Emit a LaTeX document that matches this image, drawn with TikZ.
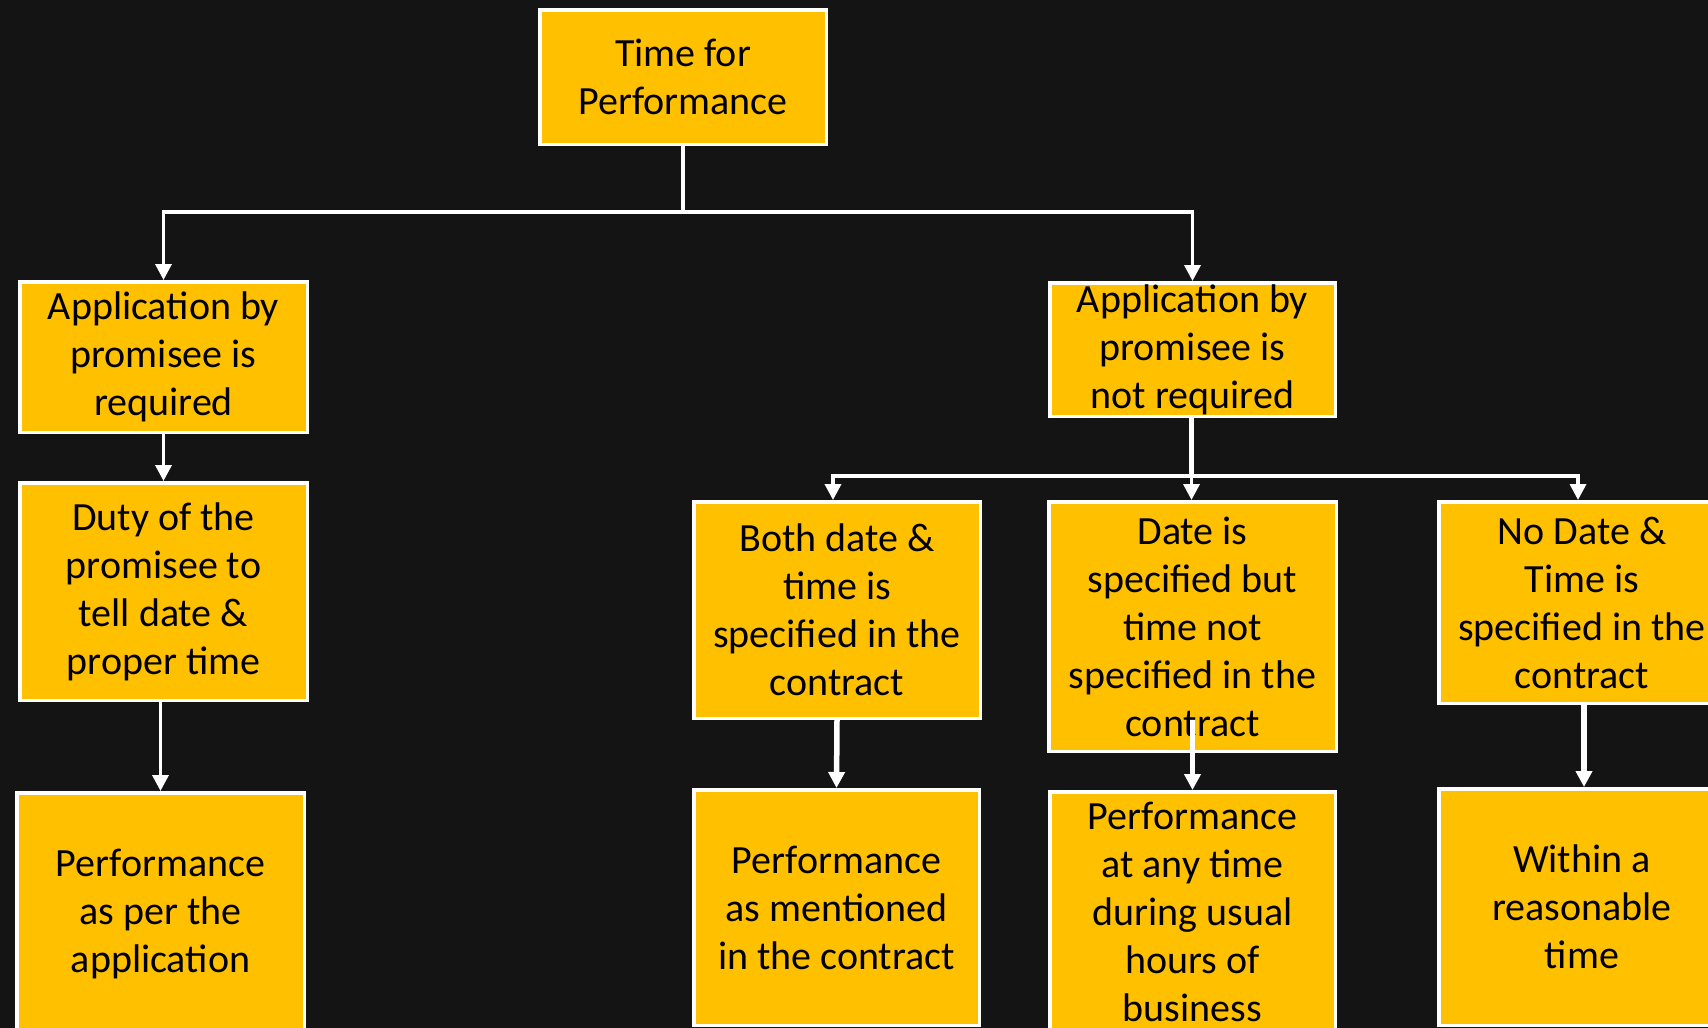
\documentclass[tikz,border=0pt]{standalone}
\usepackage{fontspec}
\setmainfont{Carlito}
\usetikzlibrary{arrows.meta}
\definecolor{bg}{HTML}{141414}
\definecolor{gold}{HTML}{FFC000}
\begin{document}
\begin{tikzpicture}[x=1pt,y=-1pt,
  box/.style={draw=white, line width=3.5pt, fill=gold, align=center, inner sep=0pt,
    font=\fontsize{40}{48}\selectfont, text=black},
  conn/.style={draw=white, line width=3.5pt},
  arr/.style={conn, -{Triangle[width=16pt,length=16pt]}}]
\useasboundingbox (0,0) rectangle (1708,1028);
\clip (0,0) rectangle (1708,1028);
\fill[bg] (0,0) rectangle (1708,1028);
\node[box, minimum width=286.5pt, minimum height=134.5pt] (top) at (683,77) {Time for\\Performance};
\node[box, minimum width=287.5pt, minimum height=150.5pt] (L1) at (163.5,357) {Application by\\promisee is\\required};
\node[box, minimum width=287.5pt, minimum height=217.5pt] (L2) at (163.5,591.5) {Duty of the\\promisee to\\tell date \&\\proper time};
\node[box, minimum width=287.5pt, minimum height=242.5pt] (L3) at (160.5,914) {Performance\\as per the\\application};
\node[box, minimum width=285.5pt, minimum height=133.5pt] (R1) at (1192.5,349.5) {Application by\\promisee is\\not required};
\node[box, minimum width=286.5pt, minimum height=216.5pt] (M1) at (837,610) {Both date \&\\time is\\specified in the\\contract};
\node[box, minimum width=287.5pt, minimum height=249.5pt] (M2) at (1192.5,626.5) {Date is\\specified but\\time not\\specified in the\\contract};
\node[box, minimum width=286.5pt, minimum height=201.5pt] (M3) at (1582,602.5) {No Date \&\\Time is\\specified in the\\contract};
\node[box, minimum width=285.5pt, minimum height=235.5pt] (B1) at (836.5,907.5) {Performance\\as mentioned\\in the contract};
\node[box, minimum width=285.5pt, minimum height=240.5pt] (B2) at (1192.5,912) {Performance\\at any time\\during usual\\hours of\\business};
\node[box, minimum width=286.5pt, minimum height=236.5pt] (B3) at (1582,907) {Within a\\reasonable\\time};
\coordinate (j1) at (683,212);
\draw[conn] (top.south) -- (j1);
\draw[arr] (j1) -| (L1.north);
\draw[arr] (j1) -| (R1.north);
\draw[arr] (L1.south) -- (L2.north);
\draw[arr] (L2.south -| L3.north) -- (L3.north);
\coordinate (j2) at (1191.5,476);
\draw[conn, line width=5.5pt] (R1.south -| j2) -- (j2);
\draw[arr] (j2) -| ([xshift=-4pt]M1.north);
\draw[arr] (j2) -- (j2 |- M2.north);
\draw[arr] (j2) -| ([xshift=-4pt]M3.north);
\draw[arr, line width=5.5pt] (M1.south) -- (B1.north);
\draw[arr, line width=5.5pt] ([yshift=33pt]M2.south) -- (B2.north);
\draw[arr, line width=5.5pt] ([xshift=2pt]M3.south) -- ([xshift=2pt]B3.north);
\end{tikzpicture}
\end{document}
